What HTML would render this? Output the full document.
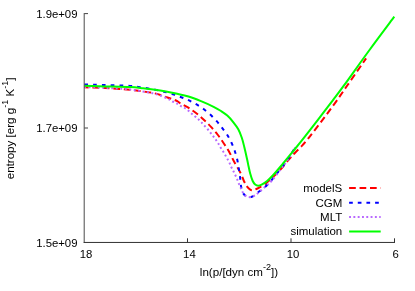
<!DOCTYPE html>
<html><head><meta charset="utf-8"><title>plot</title>
<style>
html,body{margin:0;padding:0;background:#fff;}
svg{display:block;will-change:transform;}
text{font-family:"Liberation Sans",sans-serif;font-size:11.6px;fill:#000;}
.tk,.tk text{font-size:11.35px;}
.lg{font-size:11.5px;}
.sup{font-size:9.05px;}
</style></head><body>
<svg width="415" height="291" viewBox="0 0 415 291">
<rect width="415" height="291" fill="#fff"/>
<g fill="none" stroke-width="2" stroke-linejoin="round">
<path d="M84.30,87.30 C87.75,87.42 97.38,87.60 105.00,88.00 C112.62,88.40 123.75,89.13 130.00,89.70 C136.25,90.27 138.33,90.78 142.50,91.40 C146.67,92.02 150.83,92.38 155.00,93.40 C159.17,94.42 164.00,96.32 167.50,97.50 C171.00,98.68 173.85,99.53 176.00,100.50 C178.15,101.47 178.42,102.15 180.40,103.30 C182.38,104.45 185.30,105.78 187.90,107.40 C190.50,109.02 193.40,111.00 196.00,113.00 C198.60,115.00 201.00,117.08 203.50,119.40 C206.00,121.72 208.60,124.30 211.00,126.90 C213.40,129.50 215.73,132.20 217.90,135.00 C220.07,137.80 222.07,140.80 224.00,143.70 C225.93,146.60 227.85,149.48 229.50,152.40 C231.15,155.32 232.02,157.68 233.90,161.20 C235.78,164.72 239.13,170.20 240.80,173.50 C242.47,176.80 242.85,178.80 243.90,181.00 C244.95,183.20 246.05,185.27 247.10,186.70 C248.15,188.13 249.27,189.03 250.20,189.60 C251.13,190.17 251.77,190.17 252.70,190.10 C253.63,190.03 254.65,189.67 255.80,189.20 C256.95,188.73 258.13,188.13 259.60,187.30 C261.07,186.47 262.87,185.45 264.60,184.20 C266.33,182.95 267.43,182.17 270.00,179.80 C272.57,177.43 276.83,173.40 280.00,170.00 C283.17,166.60 286.57,162.20 289.00,159.40 C291.43,156.60 292.42,155.50 294.60,153.20 C296.78,150.90 300.12,147.70 302.10,145.60 C304.08,143.50 305.03,142.35 306.50,140.60 C307.97,138.85 308.07,138.77 310.90,135.10 C313.73,131.43 319.33,124.15 323.50,118.60 C327.67,113.05 331.92,107.35 335.90,101.80 C339.88,96.25 342.37,92.53 347.40,85.30 C352.43,78.07 362.98,62.88 366.10,58.40" stroke="#ff0000" stroke-dasharray="6.7,3.75" stroke-dashoffset="2.3"/>
<path d="M84.30,84.50 C87.75,84.58 97.38,84.77 105.00,85.00 C112.62,85.23 123.67,85.47 130.00,85.90 C136.33,86.33 138.83,86.97 143.00,87.60 C147.17,88.23 150.92,88.88 155.00,89.70 C159.08,90.52 163.79,91.48 167.50,92.50 C171.21,93.52 174.17,94.72 177.25,95.80 C180.33,96.88 183.29,97.83 186.00,99.00 C188.71,100.17 191.00,101.43 193.50,102.80 C196.00,104.17 198.38,105.40 201.00,107.20 C203.62,109.00 206.58,111.27 209.20,113.60 C211.82,115.93 214.52,118.77 216.70,121.20 C218.88,123.63 220.53,125.90 222.30,128.20 C224.07,130.50 225.77,132.57 227.30,135.00 C228.83,137.43 230.28,140.22 231.50,142.80 C232.72,145.38 233.67,147.80 234.60,150.50 C235.53,153.20 236.43,156.17 237.10,159.00 C237.77,161.83 238.13,164.77 238.60,167.50 C239.07,170.23 239.53,172.52 239.90,175.40 C240.27,178.28 240.33,181.98 240.80,184.80 C241.27,187.62 241.87,190.42 242.70,192.30 C243.53,194.18 244.70,195.27 245.80,196.10 C246.90,196.93 248.05,197.30 249.30,197.30 C250.55,197.30 251.90,196.88 253.30,196.10 C254.70,195.32 255.92,193.97 257.70,192.60 C259.48,191.23 261.92,189.72 264.00,187.90 C266.08,186.08 268.37,183.72 270.20,181.70 C272.03,179.68 273.23,177.98 275.00,175.80 C276.77,173.62 278.90,171.02 280.80,168.60 C282.70,166.18 284.70,163.68 286.40,161.30 C288.10,158.92 289.35,156.97 291.00,154.30 C292.65,151.63 295.42,146.80 296.30,145.30" stroke="#0000ff" stroke-dasharray="3.7,5.1"/>
<path d="M84.30,87.00 C87.75,87.13 97.38,87.38 105.00,87.80 C112.62,88.22 123.75,88.88 130.00,89.50 C136.25,90.12 138.33,90.78 142.50,91.50 C146.67,92.22 150.83,92.63 155.00,93.80 C159.17,94.97 164.57,97.22 167.50,98.50 C170.43,99.78 170.97,100.63 172.60,101.50 C174.22,102.37 175.85,102.92 177.25,103.70 C178.65,104.48 179.74,105.48 181.00,106.20 C182.26,106.92 183.55,107.23 184.80,108.00 C186.05,108.77 187.35,109.85 188.50,110.80 C189.65,111.75 190.65,112.80 191.70,113.70 C192.75,114.60 193.75,115.33 194.80,116.20 C195.85,117.07 196.97,117.93 198.00,118.90 C199.03,119.87 199.98,120.93 201.00,122.00 C202.02,123.07 203.02,124.13 204.10,125.30 C205.18,126.47 206.38,127.68 207.50,129.00 C208.62,130.32 209.80,131.93 210.80,133.20 C211.80,134.47 212.63,135.47 213.50,136.60 C214.37,137.73 215.20,138.83 216.00,140.00 C216.80,141.17 217.55,142.37 218.30,143.60 C219.05,144.83 219.72,146.13 220.50,147.40 C221.28,148.67 222.22,149.95 223.00,151.20 C223.78,152.45 224.48,153.65 225.20,154.90 C225.92,156.15 226.62,157.45 227.30,158.70 C227.98,159.95 228.68,161.08 229.30,162.40 C229.92,163.72 230.38,165.28 231.00,166.60 C231.62,167.92 232.37,169.05 233.00,170.30 C233.63,171.55 234.17,172.77 234.80,174.10 C235.43,175.43 236.22,176.93 236.80,178.30 C237.38,179.67 237.73,180.90 238.30,182.30 C238.87,183.70 239.62,185.35 240.20,186.70 C240.78,188.05 241.23,189.25 241.80,190.40 C242.37,191.55 242.83,192.62 243.60,193.60 C244.37,194.58 245.30,195.72 246.40,196.30 C247.50,196.88 248.80,197.25 250.20,197.10 C251.60,196.95 253.23,196.30 254.80,195.40 C256.37,194.50 257.75,193.25 259.60,191.70 C261.45,190.15 263.82,187.98 265.90,186.10 C267.98,184.22 269.62,183.25 272.10,180.40 C274.58,177.55 278.42,172.10 280.80,169.00 C283.18,165.90 284.70,164.17 286.40,161.80 C288.10,159.43 289.40,157.35 291.00,154.80 C292.60,152.25 295.17,147.88 296.00,146.50" stroke="#b868ff" stroke-dasharray="1.9,2.6"/>
<path d="M84.30,85.80 C87.75,85.90 97.38,86.18 105.00,86.40 C112.62,86.62 123.67,86.78 130.00,87.10 C136.33,87.42 138.83,87.85 143.00,88.30 C147.17,88.75 151.17,89.25 155.00,89.80 C158.83,90.35 162.50,90.97 166.00,91.60 C169.50,92.23 172.25,92.78 176.00,93.60 C179.75,94.42 184.33,95.23 188.50,96.50 C192.67,97.77 196.82,99.48 201.00,101.20 C205.18,102.92 210.27,105.17 213.60,106.80 C216.93,108.43 218.72,109.53 221.00,111.00 C223.28,112.47 225.23,113.72 227.30,115.60 C229.37,117.48 231.57,120.02 233.40,122.30 C235.23,124.58 236.90,126.72 238.30,129.30 C239.70,131.88 240.80,134.85 241.80,137.80 C242.80,140.75 243.42,143.42 244.30,147.00 C245.18,150.58 246.38,156.05 247.10,159.30 C247.82,162.55 248.08,164.12 248.60,166.50 C249.12,168.88 249.52,171.18 250.20,173.60 C250.88,176.02 251.87,179.18 252.70,181.00 C253.53,182.82 254.27,183.72 255.20,184.50 C256.13,185.28 257.15,185.72 258.30,185.70 C259.45,185.68 260.63,185.18 262.10,184.40 C263.57,183.62 265.28,182.52 267.10,181.00 C268.92,179.48 270.52,178.00 273.00,175.30 C275.48,172.60 278.83,168.58 282.00,164.80 C285.17,161.02 288.58,156.78 292.00,152.60 C295.42,148.42 298.25,145.07 302.50,139.70 C306.75,134.33 312.48,126.92 317.50,120.40 C322.52,113.88 328.22,106.38 332.60,100.60 C336.98,94.82 337.65,94.13 343.80,85.70 C349.95,77.27 361.08,61.50 369.50,50.00 C377.92,38.50 390.17,22.25 394.30,16.70" stroke="#00ff00"/>
</g>
<g fill="none">
<path d="M84.2,13.1 V242.9" stroke="#4a4a4a" stroke-width="1"/>
<path d="M83.7,242.45 H395" stroke="#303030" stroke-width="1"/>
<path d="M84.3,13.6 H88 M84.3,128 H88" stroke="#444" stroke-width="1"/>
<path d="M187.5,242.4 V238.3 M291,242.4 V238.3 M394.5,242.4 V238.3" stroke="#333" stroke-width="1"/>
</g>
<g text-anchor="end" class="tk">
<text x="77.5" y="18.1">1.9e+09</text>
<text x="77.5" y="132.4">1.7e+09</text>
<text x="77.5" y="246.6">1.5e+09</text>
</g>
<g text-anchor="middle">
<text class="tk" x="86.1" y="257.7">18</text>
<text class="tk" x="189.4" y="257.7">14</text>
<text class="tk" x="293" y="257.7">10</text>
<text class="tk" x="395.7" y="257.7">6</text>
<text x="239" y="276">ln(p/[dyn cm<tspan class="sup" dy="-5.8">-2</tspan><tspan dy="5.8">])</tspan></text>
<text transform="translate(13.95,128.4) rotate(-90)">entropy [erg g<tspan class="sup" dy="-5.8">-1</tspan><tspan dy="5.8"> K</tspan><tspan class="sup" dy="-5.8">-1</tspan><tspan dy="5.8">]</tspan></text>
</g>
<g text-anchor="end">
<text class="lg" x="342.25" y="192.3">modelS</text>
<text class="lg" x="342.25" y="206.8">CGM</text>
<text class="lg" x="342.25" y="221.2">MLT</text>
<text class="lg" x="342.25" y="235.4">simulation</text>
</g>
<g fill="none" stroke-width="2">
<path d="M349.1,188.1 H380.7" stroke="#ff0000" stroke-dasharray="6.7,3.75"/>
<path d="M349.1,202.7 H380.7" stroke="#0000ff" stroke-dasharray="3.7,4.97"/>
<path d="M349.1,217 H380.7" stroke="#b868ff" stroke-dasharray="1.9,2.4"/>
<path d="M349.1,231.5 H380.7" stroke="#00ff00"/>
</g>
</svg>
</body></html>
